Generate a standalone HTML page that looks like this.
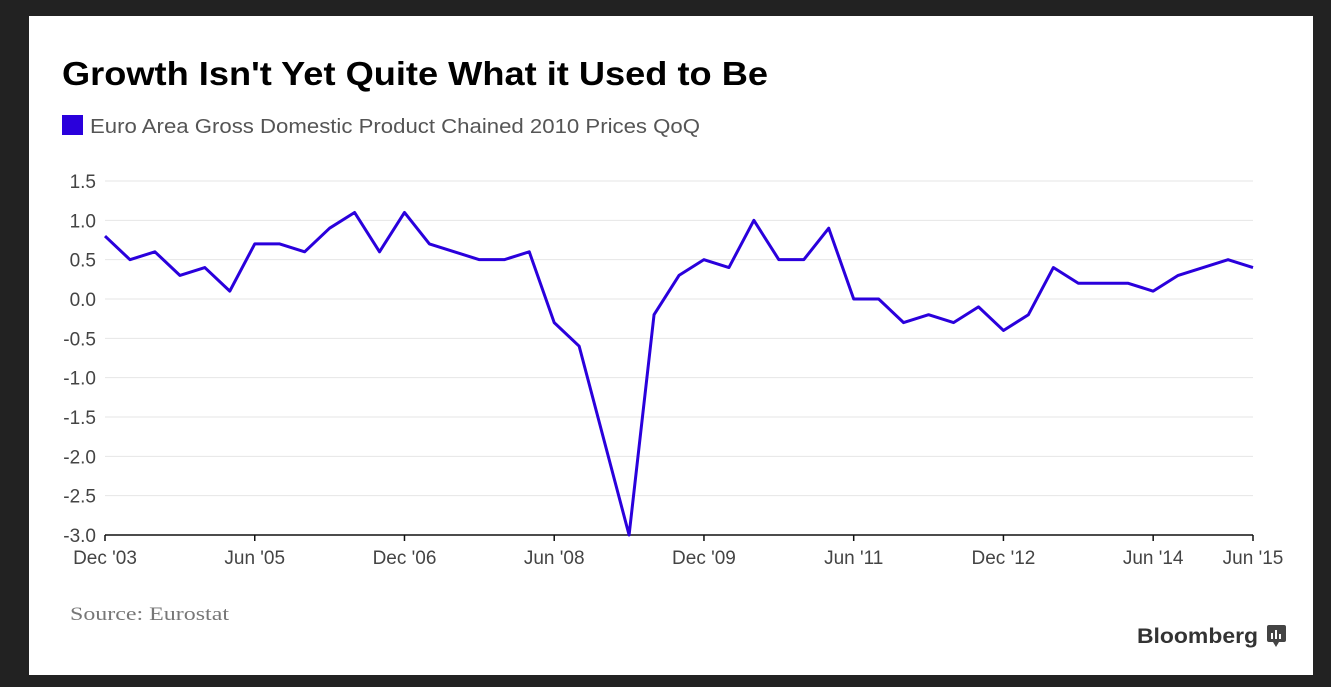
<!DOCTYPE html>
<html><head><meta charset="utf-8"><style>
body{margin:0;background:#222;width:1331px;height:687px;overflow:hidden;font-family:"Liberation Sans",sans-serif}
#panel{position:absolute;left:29px;top:16px;width:1284px;height:659px;background:#fff}
</style></head><body>
<div id="panel"></div>
<svg id="chart" width="1331" height="687" style="position:absolute;left:0;top:0">
<text x="62" y="85" font-size="33" font-weight="bold" fill="#000" textLength="706" lengthAdjust="spacingAndGlyphs">Growth Isn't Yet Quite What it Used to Be</text>
<rect x="62" y="115" width="21" height="20" fill="#2a00dc"/>
<text x="90" y="133" font-size="20" fill="#555" textLength="610" lengthAdjust="spacingAndGlyphs">Euro Area Gross Domestic Product Chained 2010 Prices QoQ</text>
<g id="grid"></g><g id="axes"></g>
<polyline id="line" fill="none" stroke="#2a00dc" stroke-width="3" stroke-linejoin="round"/>
<text x="70" y="620" font-size="19" fill="#777" font-family="Liberation Serif" textLength="159" lengthAdjust="spacingAndGlyphs">Source: Eurostat</text>
<text x="1137" y="643" font-size="21" font-weight="bold" fill="#333" textLength="121" lengthAdjust="spacingAndGlyphs">Bloomberg</text>
<g><rect x="1267" y="625" width="19" height="17" rx="2" fill="#444"/><path d="M1273 642 L1276 647 L1279 642Z" fill="#444"/><rect x="1271" y="633" width="2" height="6" fill="#fff"/><rect x="1275" y="630" width="2" height="9" fill="#fff"/><rect x="1279" y="634" width="2" height="5" fill="#fff"/></g>
</svg>
<script>
const values=[0.8,0.5,0.6,0.3,0.4,0.1,0.7,0.7,0.6,0.9,1.1,0.6,1.1,0.7,0.6,0.5,0.5,0.6,-0.3,-0.6,-1.8,-3.0,-0.2,0.3,0.5,0.4,1.0,0.5,0.5,0.9,0.0,0.0,-0.3,-0.2,-0.3,-0.1,-0.4,-0.2,0.4,0.2,0.2,0.2,0.1,0.3,0.4,0.5,0.4];
const yTicks=[1.5,1.0,0.5,0.0,-0.5,-1.0,-1.5,-2.0,-2.5,-3.0];
const xTickIdx=[0,6,12,18,24,30,36,42,46];
const xTickLabels=["Dec '03","Jun '05","Dec '06","Jun '08","Dec '09","Jun '11","Dec '12","Jun '14","Jun '15"];
const X0=105,X1=1253,Y0=181,Y1=535,ns="http://www.w3.org/2000/svg";
const xs=i=>X0+(X1-X0)*i/(values.length-1);
const ys=v=>Y0+(1.5-v)/(4.5)*(Y1-Y0);
const grid=document.getElementById('grid'),axes=document.getElementById('axes');
function mk(tag,at,p){const e=document.createElementNS(ns,tag);for(const k in at)e.setAttribute(k,at[k]);p.appendChild(e);return e;}
yTicks.forEach(v=>{
 if(v>-3){const g=mk('line',{x1:X0,x2:X1,y1:ys(v),y2:ys(v),stroke:'#e6e6e6','stroke-width':1},grid);
 
 }
 const t=mk('text',{x:96,y:ys(v)+7,'font-size':19,fill:'#444','text-anchor':'end'},axes);
 t.textContent=v.toFixed(1);
 
 
});
const ax=mk('line',{x1:X0,x2:X1,y1:Y1,y2:Y1,stroke:'#111','stroke-width':1.5},axes);


xTickIdx.forEach((i,k)=>{
 const tk=mk('line',{x1:xs(i),x2:xs(i),y1:Y1,y2:Y1+6,stroke:'#111','stroke-width':1.5},axes);
 
 
 const t=mk('text',{x:xs(i),y:Y1+29,'font-size':19,fill:'#444','text-anchor':'middle'},axes);
 t.textContent=xTickLabels[k];
 
 
});
document.getElementById('line').setAttribute('points',values.map((v,i)=>xs(i)+','+ys(v)).join(' '));
</script>
</body></html>
